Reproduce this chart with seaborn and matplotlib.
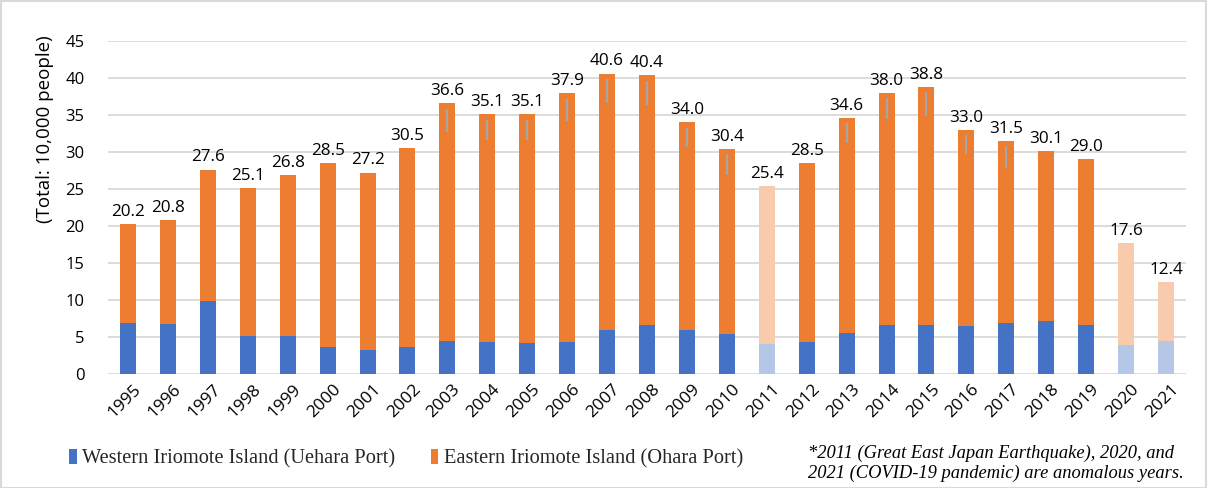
import matplotlib
matplotlib.use("Agg")
import matplotlib.pyplot as plt
from matplotlib.patches import Patch, Rectangle
from matplotlib.transforms import ScaledTranslation
import seaborn as sns
import pandas as pd
import numpy as np

years = [str(y) for y in range(1995, 2022)]
totals = [20.2, 20.8, 27.6, 25.1, 26.8, 28.5, 27.2, 30.5, 36.6, 35.1, 35.1, 37.9,
          40.6, 40.4, 34.0, 30.4, 25.4, 28.5, 34.6, 38.0, 38.8, 33.0, 31.5, 30.1,
          29.0, 17.6, 12.4]
western = [6.9, 6.7, 9.85, 5.1, 5.1, 3.6, 3.2, 3.6, 4.4, 4.2, 4.1, 4.2, 5.9, 6.6,
           5.9, 5.4, 4.0, 4.3, 5.5, 6.5, 6.5, 6.4, 6.9, 7.1, 6.5, 3.8, 4.4]
anomalous = ["2011", "2020", "2021"]
# grey in-bar marks (artifacts of the source chart), length in units
mark_len = [np.nan] * 8 + [3.1, 2.7, 2.7, 3.0, 3.3, 3.25, 2.65, 2.8, np.nan, np.nan,
                           2.7, 2.75, 3.15, 2.6, 3.0, np.nan, np.nan, np.nan, np.nan]
mark_gap = 0.75

BLUE, ORANGE = "#4472C4", "#ED7D31"
LBLUE, LORANGE = "#B4C7E7", "#F8CBAD"

df = pd.DataFrame({"Year": years, "Total": totals, "Western": western})
df["Eastern"] = df["Total"] - df["Western"]

sns.set_theme(style="white")
plt.rcParams["font.family"] = ["Open Sans", "DejaVu Sans"]

fig = plt.figure(figsize=(12.08, 4.88), dpi=100)
ax = fig.add_axes([108 / 1208, 1 - 373.5 / 488, (1186 - 108) / 1208, (373.5 - 41) / 488])

pal_tot = {y: (LORANGE if y in anomalous else ORANGE) for y in years}
pal_w = {y: (LBLUE if y in anomalous else BLUE) for y in years}

sns.barplot(data=df, x="Year", y="Total", hue="Year", palette=pal_tot, order=years,
            hue_order=years, dodge=False, width=0.4, legend=False, ax=ax,
            saturation=1, edgecolor="none", linewidth=0, zorder=2)
tot_containers = list(ax.containers)
sns.barplot(data=df, x="Year", y="Western", hue="Year", palette=pal_w, order=years,
            hue_order=years, dodge=False, width=0.4, legend=False, ax=ax,
            saturation=1, edgecolor="none", linewidth=0, zorder=3)

for c in tot_containers:
    ax.bar_label(c, fmt="%.1f", padding=3, fontsize=12.3, color="#000000")

# grey marks inside bars
for i, (t, L) in enumerate(zip(totals, mark_len)):
    if not np.isnan(L):
        ax.vlines(i, t - mark_gap - L, t - mark_gap, color="#A5A5A5", lw=1.6, zorder=4)

ax.set_xlim(-0.5, len(years) - 0.5)
ax.set_ylim(0, 45)
ax.set_yticks(range(0, 46, 5))
ax.yaxis.grid(True, color="#D9D9D9", lw=1.3, zorder=0)
ax.set_axisbelow(True)
for s in ax.spines.values():
    s.set_visible(False)
ax.tick_params(axis="y", length=0, pad=17, labelsize=12, colors="#000000")
ax.tick_params(axis="x", length=0, pad=4, labelsize=12.5, colors="#000000")
ax.set_xlabel("")
ax.set_ylabel("")
shift = ScaledTranslation(5 / 100, -2 / 100, fig.dpi_scale_trans)
for lab in ax.get_xticklabels():
    lab.set_rotation(45)
    lab.set_ha("right")
    lab.set_va("top")
    lab.set_rotation_mode("anchor")
    lab.set_transform(lab.get_transform() + shift)

fig.text(45 / 1208, 1 - 129 / 488, "(Total: 10,000 people)", rotation=90,
         ha="center", va="center", fontsize=13.5, color="#000000")

handles = [Patch(facecolor=BLUE, edgecolor="none"), Patch(facecolor=ORANGE, edgecolor="none")]
labels = ["Western Iriomote Island (Uehara Port)", "Eastern Iriomote Island (Ohara Port)"]
fig.legend(handles, labels, loc="center left", bbox_to_anchor=(69 / 1208, 1 - 459 / 488),
           ncol=2, frameon=False, prop={"family": "Liberation Serif", "size": 14.7},
           handlelength=0.38, handleheight=0.7, handletextpad=0.25, columnspacing=1.75,
           borderpad=0, borderaxespad=0)

fig.text(808 / 1208, 1 - 463.5 / 488,
         "*2011 (Great East Japan Earthquake), 2020, and\n2021 (COVID-19 pandemic) are anomalous years.",
         ha="left", va="center", fontsize=13.3, family="Liberation Serif", style="italic",
         linespacing=1.22, color="#000000")

fig.patches.append(Rectangle((0.0005, 0.001), 0.998, 0.997, transform=fig.transFigure,
                             fill=False, edgecolor="#D9D9D9", lw=1.5))

fig.savefig("out.png", dpi=100)
